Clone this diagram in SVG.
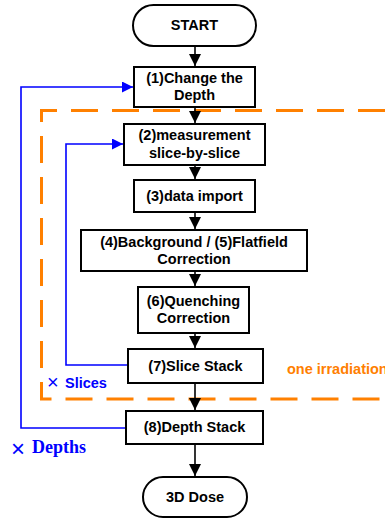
<svg xmlns="http://www.w3.org/2000/svg" width="385" height="518" viewBox="0 0 385 518">
<style>
.box{fill:#fff;stroke:#000;stroke-width:2}
.t{font-family:"Liberation Sans",Arial,sans-serif;font-weight:bold;font-size:14.5px;fill:#000;text-anchor:middle}
.ar{fill:none;stroke:#000;stroke-width:1.6}
.bl{fill:none;stroke:#0000ff;stroke-width:1.6}
.or{fill:none;stroke:#ff8000;stroke-width:3;stroke-dasharray:27 14}
.x{font-family:"Liberation Sans",Arial,sans-serif;font-weight:normal;fill:#0000ff}
</style>
<defs>
<marker id="ah" markerUnits="userSpaceOnUse" markerWidth="12" markerHeight="12" viewBox="0 0 10 10" refX="10" refY="5" orient="auto">
<path d="M0,0 L10,5 L0,10 Z" fill="#000"/>
</marker>
<marker id="bh" markerUnits="userSpaceOnUse" markerWidth="11" markerHeight="11" viewBox="0 0 10 10" refX="10" refY="5" orient="auto">
<path d="M0,0 L10,5 L0,10 Z" fill="#0000ff"/>
</marker>
</defs>
<rect width="385" height="518" fill="#fff"/>
<g id="irradiation-frame">
<path class="or" d="M385,110.5 H41.5 V399 H385"/>
<text x="287" y="374" font-family="Liberation Sans,Arial,sans-serif" font-weight="bold" font-size="14.5" fill="#ff8000">one irradiation</text>
</g>
<g id="connectors">
<path class="ar" d="M195,46 V66" marker-end="url(#ah)"/>
<path class="ar" d="M195,107 V123" marker-end="url(#ah)"/>
<path class="ar" d="M195,165 V179" marker-end="url(#ah)"/>
<path class="ar" d="M195,212 V229" marker-end="url(#ah)"/>
<path class="ar" d="M195,271 V286" marker-end="url(#ah)"/>
<path class="ar" d="M195,333 V348" marker-end="url(#ah)"/>
<path class="ar" d="M195,383 V410" marker-end="url(#ah)"/>
<path class="ar" d="M195,444 V476" marker-end="url(#ah)"/>
<path class="bl" d="M126,428 H21 V87 H133" marker-end="url(#bh)"/>
<path class="bl" d="M128,365 H66 V144 H123" marker-end="url(#bh)"/>
</g>
<g id="loop-labels">
<text y="387.5" font-family="Liberation Sans,Arial,sans-serif" font-weight="bold" font-size="14.5" fill="#0000ff"><tspan class="x" x="47" y="389" font-size="20">×</tspan><tspan x="65" y="387.5">Slices</tspan></text>
<text y="453" font-family="Liberation Serif,serif" font-weight="bold" font-size="18" fill="#0000ff"><tspan class="x" x="11" y="456.5" font-size="24">×</tspan><tspan x="32" y="453" textLength="54" lengthAdjust="spacing">Depths</tspan></text>
</g>
<g id="start">
<rect class="box" x="133" y="5" width="123" height="41" rx="20.5"/>
<text class="t" x="194.5" y="30">START</text>
</g>
<g id="n1">
<rect class="box" x="134" y="67" width="121" height="40"/>
<text class="t" x="194.5" y="83">(1)Change the</text>
<text class="t" x="194.5" y="100">Depth</text>
</g>
<g id="n2">
<rect class="box" x="124" y="124" width="141" height="41"/>
<text class="t" x="194.5" y="140">(2)measurement</text>
<text class="t" x="194.5" y="158">slice-by-slice</text>
</g>
<g id="n3">
<rect class="box" x="134" y="180" width="121" height="32"/>
<text class="t" x="194.5" y="201">(3)data import</text>
</g>
<g id="n4">
<rect class="box" x="81" y="230" width="226" height="41"/>
<text class="t" x="194" y="247">(4)Background / (5)Flatfield</text>
<text class="t" x="194" y="264">Correction</text>
</g>
<g id="n6">
<rect class="box" x="138" y="287" width="111" height="46"/>
<text class="t" x="193.5" y="306">(6)Quenching</text>
<text class="t" x="193.5" y="323">Correction</text>
</g>
<g id="n7">
<rect class="box" x="128" y="349" width="135" height="34"/>
<text class="t" x="195.5" y="371">(7)Slice Stack</text>
</g>
<g id="n8">
<rect class="box" x="126" y="411" width="137" height="33"/>
<text class="t" x="194.5" y="432">(8)Depth Stack</text>
</g>
<g id="end">
<rect class="box" x="143" y="477" width="104" height="40" rx="20"/>
<text class="t" x="195" y="502">3D Dose</text>
</g>
</svg>
